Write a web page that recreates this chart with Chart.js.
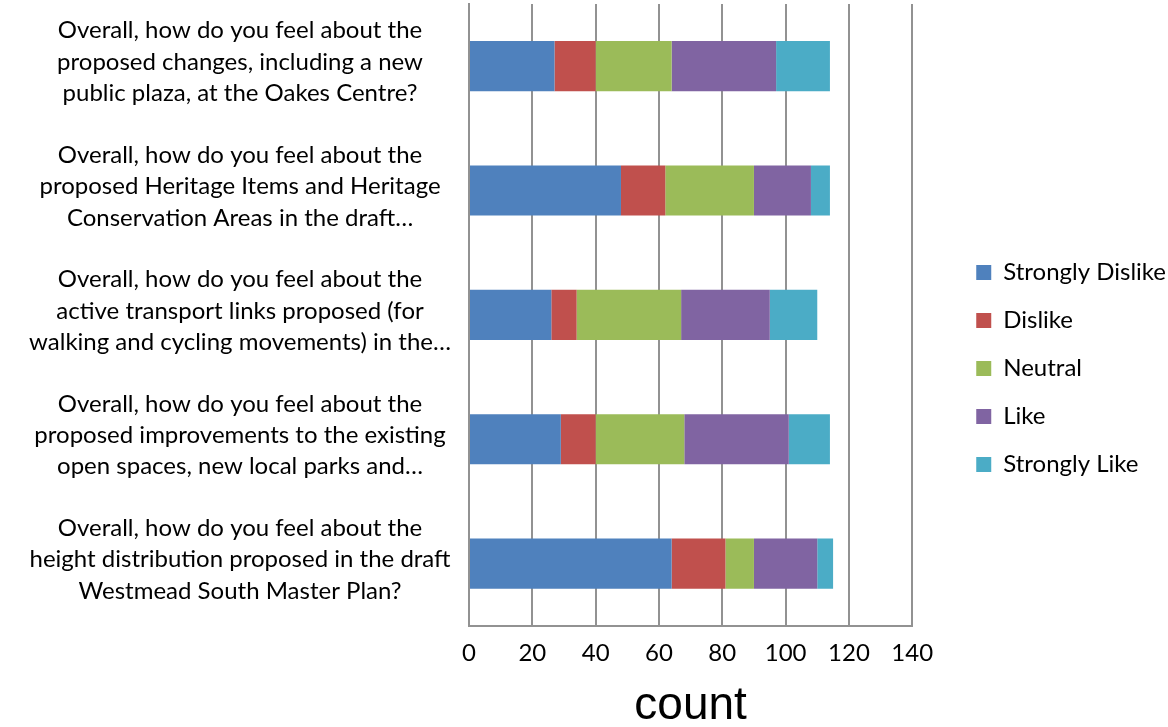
<!DOCTYPE html>
<html>
<head>
<meta charset="utf-8">
<script src="https://cdn.jsdelivr.net/npm/chart.js@4/dist/chart.umd.min.js"></script>
<style>
  html, body { margin: 0; padding: 0; background: #fff; }
  #wrap { width: 1168px; height: 727px; }
</style>
</head>
<body>
<div id="wrap"><canvas id="chart"></canvas></div>
<script>
const questions = [
    ["Overall, how do you feel about the", "proposed changes, including a new", "public plaza, at the Oakes Centre?"],
    ["Overall, how do you feel about the", "proposed Heritage Items and Heritage", "Conservation Areas in the draft…"],
    ["Overall, how do you feel about the", "active transport links proposed (for", "walking and cycling movements) in the…"],
    ["Overall, how do you feel about the", "proposed improvements to the existing", "open spaces, new local parks and…"],
    ["Overall, how do you feel about the", "height distribution proposed in the draft", "Westmead South Master Plan?"]
];
const stronglyDislike = [27, 48, 26, 29, 64];
const dislike = [13, 14, 8, 11, 17];
const neutral = [24, 28, 33, 28, 9];
const like = [33, 18, 28, 33, 20];
const stronglyLike = [17, 6, 15, 13, 5];
const xTicks = [0, 20, 40, 60, 80, 100, 120, 140];

const textFont = 'Lato';
const gridColor = '#929292';

// nudge the legend to where Excel put it
const legendShift = {
    id: 'legendShift',
    afterLayout(chart) {
        const lg = chart.legend;
        const dx = 40, dy = 3;
        lg.left += dx; lg.right += dx;
        lg.top += dy; lg.bottom += dy;
    }
};

const ctx = document.getElementById('chart').getContext('2d');
const chart = new Chart(ctx, {
    type: 'bar',
    data: {
        labels: questions,
        datasets: [
            { label: 'Strongly Dislike', data: stronglyDislike, backgroundColor: '#4F81BD' },
            { label: 'Dislike', data: dislike, backgroundColor: '#C0504D' },
            { label: 'Neutral', data: neutral, backgroundColor: '#9BBB59' },
            { label: 'Like', data: like, backgroundColor: '#8064A2' },
            { label: 'Strongly Like', data: stronglyLike, backgroundColor: '#4BACC6' }
        ]
    },
    options: {
        indexAxis: 'y',
        responsive: true,
        maintainAspectRatio: false,
        animation: false,
        datasets: { bar: { barPercentage: 0.504, categoryPercentage: 0.8 } },
        layout: { padding: { left: 0, right: 32, top: 4, bottom: 0 } },
        plugins: {
            tooltip: { enabled: false },
            legend: {
                position: 'right',
                labels: {
                    boxWidth: 15,
                    boxHeight: 15,
                    padding: 24,
                    color: '#000',
                    font: { family: textFont, size: 24 }
                }
            }
        },
        scales: {
            x: {
                stacked: true,
                min: 0,
                max: 140,
                afterBuildTicks: s => { s.ticks = xTicks.map(v => ({ value: v })); },
                grid: { color: gridColor, lineWidth: 2, drawTicks: false },
                border: { color: gridColor, width: 2 },
                ticks: { color: '#000', padding: 13, font: { family: textFont, size: 24 } },
                title: {
                    display: true,
                    text: 'count',
                    color: '#000',
                    padding: { top: 5, bottom: 0 },
                    font: { family: 'Liberation Sans', size: 46, lineHeight: 0.9 }
                }
            },
            y: {
                stacked: true,
                afterFit: s => {
                    s.width = 469;
                    // labels sit in the middle of each band, no end padding needed
                    s.paddingTop = 0;
                    s.paddingBottom = 0;
                },
                grid: { display: false, drawTicks: false },
                border: { color: gridColor, width: 2 },
                ticks: {
                    color: '#000',
                    padding: 18,
                    labelOffset: -4,
                    crossAlign: 'center',
                    font: { family: textFont, size: 24, lineHeight: 1.31 }
                }
            }
        }
    },
    plugins: [legendShift]
});
</script>
</body>
</html>
